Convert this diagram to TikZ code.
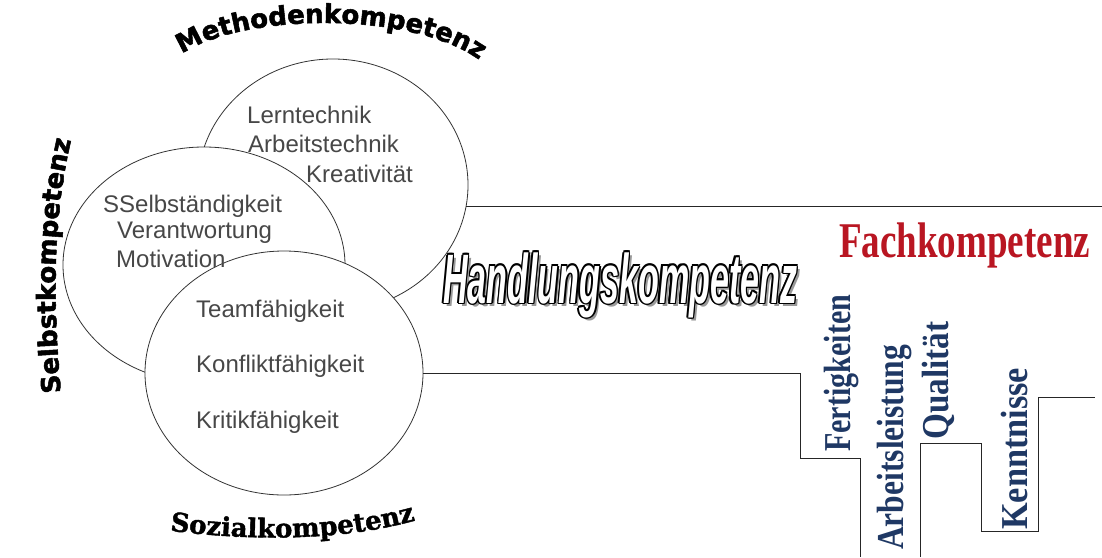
\documentclass[tikz,border=0pt]{standalone}
\usepackage{fontspec}
\setmainfont{Liberation Serif}
\newfontfamily\arialfont{Liberation Sans}
\newfontfamily\dejafont[FakeBold=2]{DejaVu Sans Bold}
\newfontfamily\slabfont[FakeBold=1.5]{DejaVu Serif Bold}
\usetikzlibrary{shapes.geometric,decorations.text}
\definecolor{fachred}{RGB}{185,22,34}
\definecolor{fachblue}{RGB}{31,56,100}

\begin{document}
\begin{tikzpicture}[x=1pt,y=-1pt,
  kreis/.style={ellipse, draw=black!80, fill=white, line width=0.8pt, inner sep=0pt},
  stichwort/.style={anchor=base west, inner sep=0pt, text=black!72,
    font=\arialfont\fontsize{24}{24}\selectfont},
  fach/.style={anchor=base west, inner sep=0pt, rotate=90, text=fachblue,
    font=\bfseries\fontsize{38}{38}\selectfont},
  hk/.style={anchor=base west, inner sep=0pt,
    font=\arialfont\bfseries\itshape\fontsize{70}{70}\selectfont},
  stufe/.style={draw=black!85, line width=0.9pt}]

  \newcommand\bogenfont{\dejafont\fontsize{26}{26}\selectfont}
  \newcommand\sozfont{\slabfont\fontsize{26}{26}\selectfont}
  \newcommand\hktext{\resizebox{354pt}{\height}{Handlungskompetenz}}

  \useasboundingbox (0,0) rectangle (1102,557);

  % die drei Kreise
  \node[kreis, minimum width=270pt, minimum height=252pt] (meth) at (333,185) {};
  \node[kreis, minimum width=282pt, minimum height=236pt] (selb) at (204,265) {};
  \node[kreis, minimum width=278pt, minimum height=244pt] (soz) at (284,373) {};

  % Treppe
  \coordinate (oben) at (1102,206);
  \draw[stufe] (meth.-9) -- (meth.-9 -| oben);

  \coordinate (s1) at (800,458);
  \coordinate (s2) at (860,557);
  \draw[stufe] (soz.east) -| (s1) -| (s2);

  \coordinate (q1) at (920,557);
  \coordinate (q2) at (981,443);
  \coordinate (q3) at (1038,531);
  \coordinate (q4) at (1095,397);
  \draw[stufe] (q1) |- (q2) |- (q3) |- (q4);

  % Stichworte
  \node[stichwort] (lern) at (247,123) {Lerntechnik};
  \node[stichwort] (arbt) at (248,152) {Arbeitstechnik};
  \node[stichwort] (krea) at (306,182) {Kreativität};
  \node[stichwort] (selbst) at (103,212) {SSelbständigkeit};
  \node[stichwort] (verant) at (117,238) {Verantwortung};
  \node[stichwort] (moti) at (116,267) {Motivation};
  \node[stichwort] (team) at (196,317) {Teamfähigkeit};
  \node[stichwort] (konf) at (196,372) {Konfliktfähigkeit};
  \node[stichwort] (krit) at (196,428) {Kritikfähigkeit};

  % Bogentexte
  \path[decorate, decoration={text along path, text align=center,
    text={|\bogenfont|Methodenkompetenz}}]
    (172,62) .. controls (226,10) and (427,8) .. (489,68);
  \path[decorate, decoration={text along path, text align=center,
    text={|\bogenfont|Selbstkompetenz}}]
    (62,405) .. controls (52,300) and (52,215) .. (74,128);
  \path[decorate, decoration={text along path, text align=center,
    text={|\sozfont|Sozialkompetenz}}]
    (158,529) .. controls (240,541) and (345,543) .. (427,517);

  % Handlungskompetenz mit Rand und Schatten
  \coordinate (hkpos) at (443,303);
  \node[hk, text=black!40] (hkschatten) at ([xshift=3pt,yshift=-3pt]hkpos) {\hktext};
  \foreach \dx/\dy [count=\k] in {1.5/0,-1.5/0,0/1.5,0/-1.5,1.1/1.1,-1.1/1.1,1.1/-1.1,-1.1/-1.1}
    \node[hk] (hkrand\k) at ([xshift=\dx pt,yshift=\dy pt]hkpos) {\hktext};
  \node[hk, text=white] (hk) at (hkpos) {\hktext};

  % Fachkompetenz
  \node[anchor=base west, inner sep=0pt, text=fachred,
    font=\bfseries\fontsize{50}{50}\selectfont] (fach) at (839,257)
    {\resizebox{251pt}{\height}{Fachkompetenz}};
  \node[fach] (fert) at (850,452) {\resizebox{157pt}{\height}{Fertigkeiten}};
  \node[fach] (arbl) at (903,550) {\resizebox{205pt}{\height}{Arbeitsleistung}};
  \node[fach] (qual) at (948,440) {\resizebox{118pt}{\height}{Qualität}};
  \node[fach] (kenn) at (1027,530) {\resizebox{162pt}{\height}{Kenntnisse}};

\end{tikzpicture}
\end{document}
